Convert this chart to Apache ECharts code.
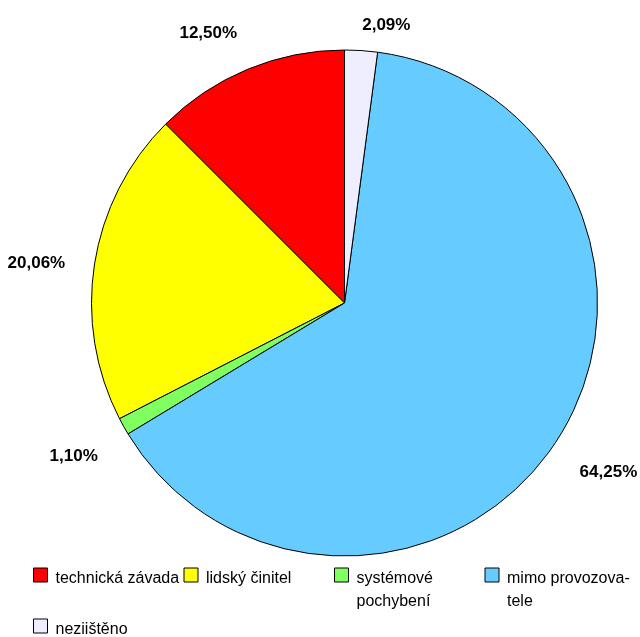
<!DOCTYPE html>
<html>
<head>
<meta charset="utf-8">
<script src="https://cdn.jsdelivr.net/npm/echarts@6/dist/echarts.min.js"></script>
<style>html,body{margin:0;padding:0;background:#fff;}#c{width:640px;height:637px;}</style>
</head>
<body>
<div id="c"></div>
<script>
var categories = ['technická závada', 'lidský činitel', 'systémové pochybení', 'mimo provozovatele', 'neziištěno'];
var values = [12.50, 20.06, 1.10, 64.25, 2.09];
var labelTexts = ['12,50%', '20,06%', '1,10%', '64,25%', '2,09%'];
var legendLines = [['technická závada'], ['lidský činitel'], ['systémové', 'pochybení'], ['mimo provozova-', 'tele'], ['neziištěno']];
var colors = ['#FF0000', '#FFFF00', '#80FF60', '#66CCFF', '#EEEEFF'];

// layout (not data)
var CX = 344.5, CY = 303, R = 253;
var labelNudge = [[-23, 4], [-5, 8], [-7, 6], [8, 2], [23, 9]];

var total = values.reduce(function (a, b) { return a + b; }, 0);
var midAngles = [];
(function () {
  var acc = 0;
  for (var i = 0; i < values.length; i++) {
    midAngles.push((acc + values[i] / 2) / total * 2 * Math.PI);
    acc += values[i];
  }
})();

var chart = echarts.init(document.getElementById('c'), null, { renderer: 'canvas' });
var font = '"Liberation Sans", Arial, Helvetica, sans-serif';

function legendFormatter(n) {
  var lines = legendLines[categories.indexOf(n)];
  var out = lines.map(function (l) { return '{t|' + l + '}'; });
  if (lines.length > 1) out.unshift('{t|}');
  return out.join('\n');
}

var legendText = {
  fontFamily: font, fontSize: 16, color: '#000', lineHeight: 23,
  rich: { t: { fontFamily: font, fontSize: 16, color: '#000', lineHeight: 23, padding: [0, 0, 0, 3], verticalAlign: 'bottom' } }
};

var option = {
  animation: false,
  backgroundColor: '#ffffff',
  color: colors,
  legend: [
    {
      left: 33, top: 568 - 27.5, padding: 0, itemGap: 0, width: 620,
      itemWidth: 14, itemHeight: 14, selectedMode: false, icon: 'rect',
      data: categories.slice(0, 4),
      formatter: legendFormatter,
      textStyle: Object.assign({ width: 131 }, legendText),
      itemStyle: { borderColor: '#000', borderWidth: 1 }
    },
    {
      left: 33, top: 619 - 4.5, padding: 0, itemGap: 0,
      itemWidth: 14, itemHeight: 14, selectedMode: false, icon: 'rect',
      data: categories.slice(4),
      formatter: legendFormatter,
      textStyle: legendText,
      itemStyle: { borderColor: '#000', borderWidth: 1 }
    }
  ],
  series: [{
    type: 'pie',
    center: [CX, CY],
    radius: [0, R],
    startAngle: 90,
    clockwise: false,
    avoidLabelOverlap: false,
    itemStyle: { borderColor: '#000', borderWidth: 1 },
    emphasis: { disabled: true },
    labelLine: { show: false },
    label: {
      show: true,
      position: 'outside',
      fontFamily: font,
      fontSize: 17,
      fontWeight: 'bold',
      color: '#000',
      formatter: function (p) { return labelTexts[p.dataIndex]; }
    },
    labelLayout: function (p) {
      var a = midAngles[p.dataIndex];
      var sx = -Math.sin(a), sy = -Math.cos(a);
      var w = p.labelRect.width, h = p.labelRect.height;
      var support = Math.abs(sx) * w / 2 + Math.abs(sy) * h / 2;
      var d = R + 24 + support;
      var n = labelNudge[p.dataIndex];
      return { x: CX + sx * d + n[0], y: CY + sy * d + n[1], align: 'center', verticalAlign: 'middle' };
    },
    data: categories.map(function (c, i) { return { name: c, value: values[i] }; })
  }]
};
chart.setOption(option);
</script>
</body>
</html>
